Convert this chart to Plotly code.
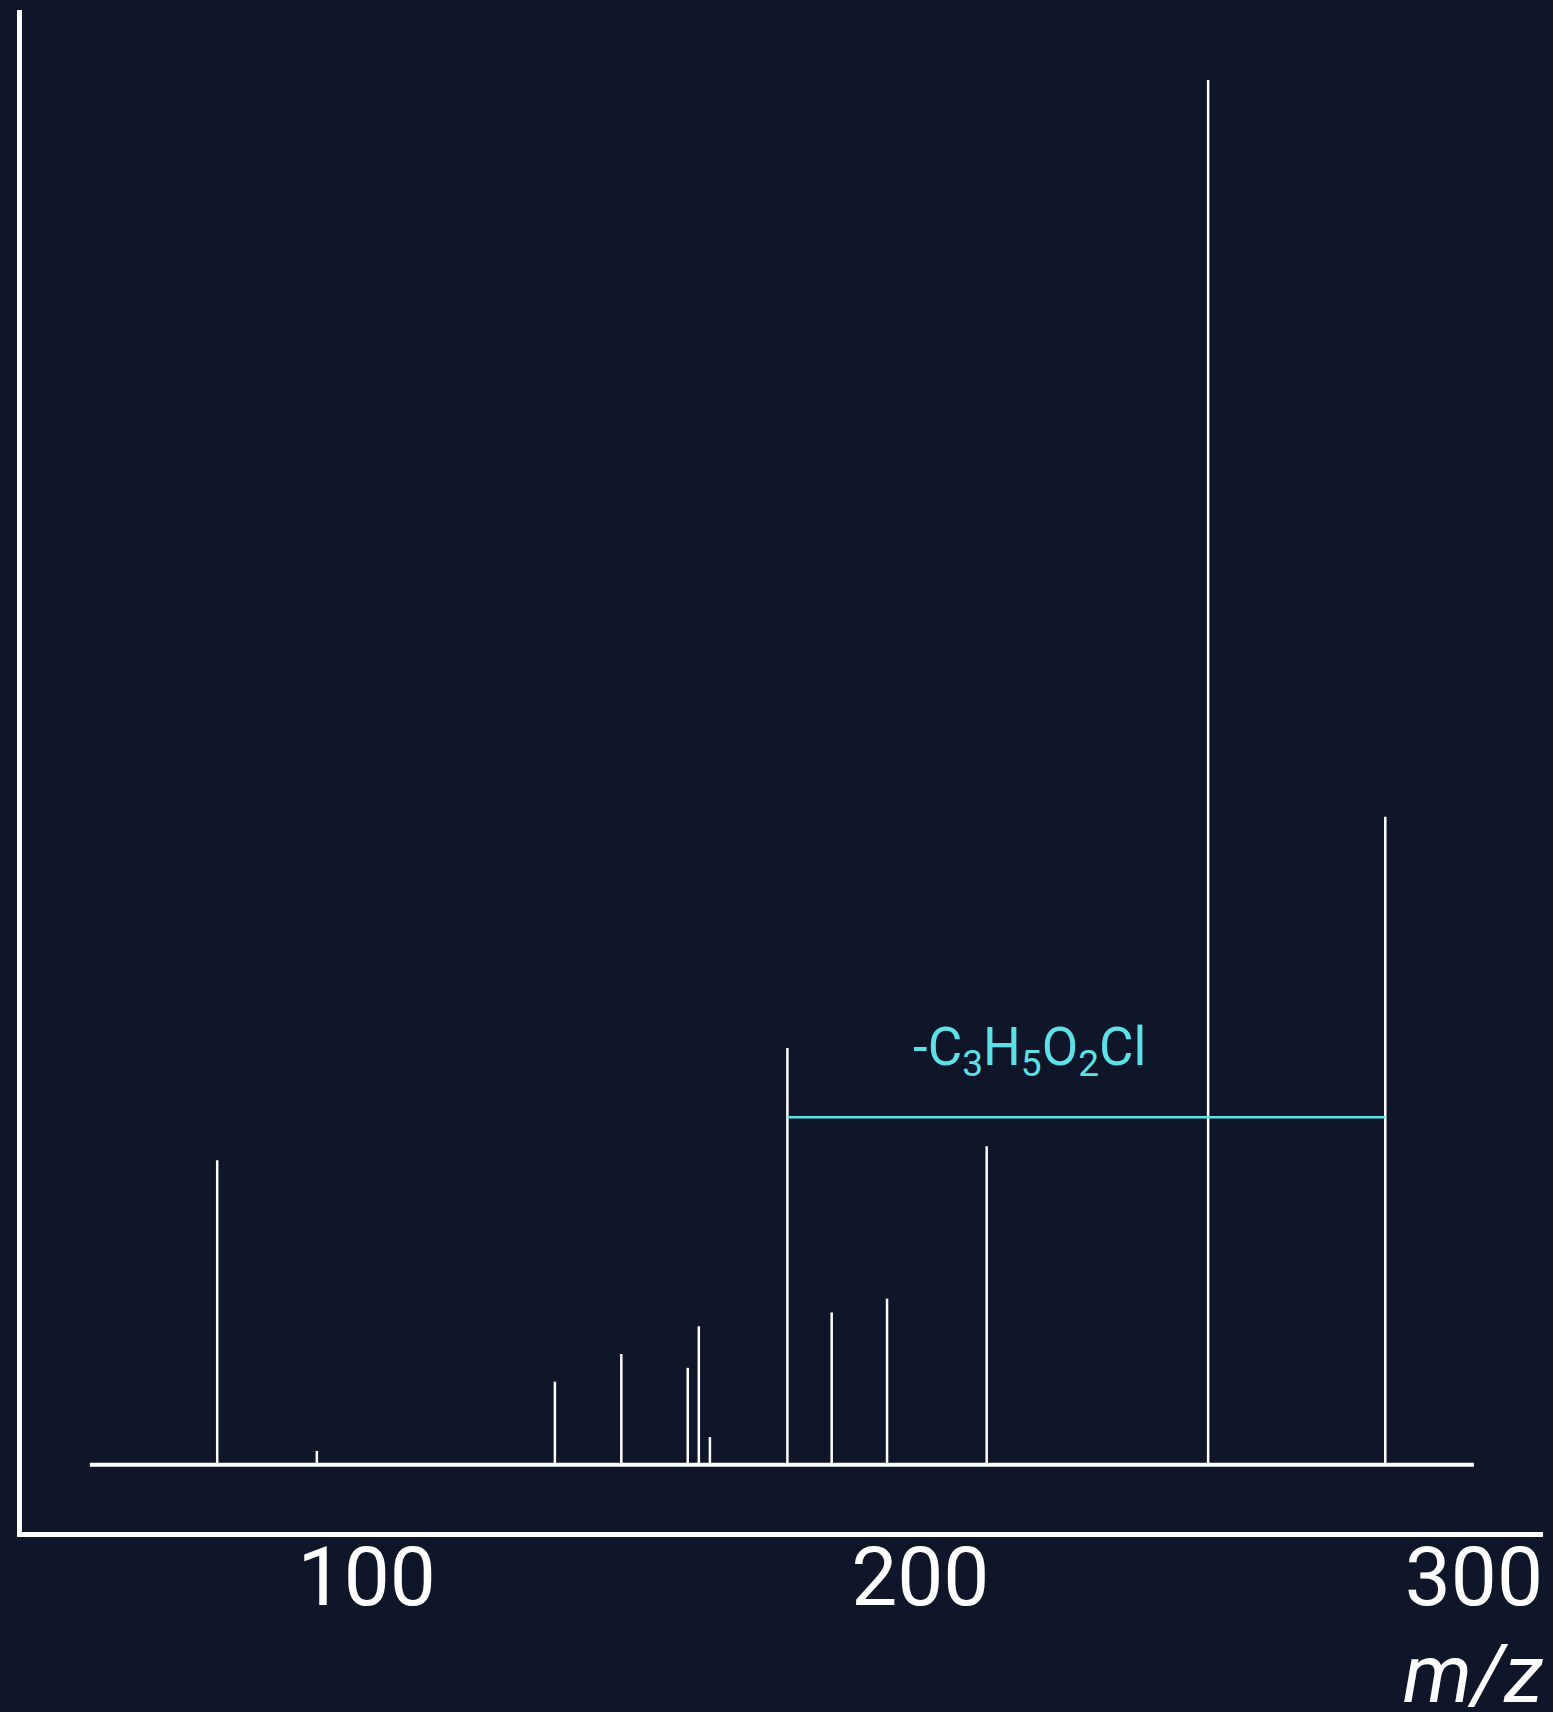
import plotly.graph_objects as go

# Peak data (m/z, relative intensity %)
mz = [73, 91, 134, 146, 158, 160, 162, 176, 184, 194, 212, 252, 284]
intensity = [22.0, 1.0, 6.0, 8.0, 7.0, 10.0, 2.0, 30.1, 11.0, 12.0, 23.0, 100.0, 46.8]

baseline_range = [50, 300]
x_ticks = [100, 200, 300]
x_tick_labels = ["100", "200", "300"]

loss_from = 176
loss_to = 284
loss_level = 25.1
loss_label = "-C<sub>3</sub>H<sub>5</sub>O<sub>2</sub>Cl"

BG = "#0f1629"
WHITE = "#ffffff"
CYAN = "#5ee1e6"
FONT = "Roboto"

# build stick spectrum
xs, ys = [], []
for m, h in zip(mz, intensity):
    xs += [m, m, None]
    ys += [0, h, None]

fig = go.Figure()
fig.add_trace(go.Scatter(
    x=baseline_range, y=[0, 0], mode="lines",
    line=dict(color=WHITE, width=4), hoverinfo="skip", showlegend=False))
fig.add_trace(go.Scatter(
    x=xs, y=ys, mode="lines",
    line=dict(color=WHITE, width=2.5), hoverinfo="skip", showlegend=False))
fig.add_trace(go.Scatter(
    x=[loss_from, loss_to], y=[loss_level, loss_level], mode="lines",
    line=dict(color=CYAN, width=2.5), hoverinfo="skip", showlegend=False))

fig.add_annotation(
    x=(loss_from + loss_to) / 2 - 10.3, y=loss_level + 4.85,
    xref="x", yref="y", text=loss_label, showarrow=False,
    xanchor="center", yanchor="middle",
    font=dict(family=FONT, size=53, color=CYAN))

fig.add_annotation(
    x=1.001, y=-0.0935, xref="paper", yref="paper",
    text="<i>m/z</i>", showarrow=False, xanchor="right", yanchor="middle",
    font=dict(family=FONT, size=81, color=WHITE))

fig.update_xaxes(
    range=[37.74, 312.49], tickvals=x_ticks, ticktext=x_tick_labels,
    showline=True, linecolor=WHITE, linewidth=5, showgrid=False, zeroline=False,
    ticks="", ticklabelstandoff=-30,
    tickfont=dict(family=FONT, size=82, color=WHITE))
fig.update_yaxes(
    range=[-4.856, 105.06], showticklabels=False,
    showline=True, linecolor=WHITE, linewidth=5, showgrid=False, zeroline=False,
    ticks="")

fig.update_layout(
    width=1553, height=1712,
    margin=dict(l=22, r=10, t=10, b=180),
    paper_bgcolor=BG, plot_bgcolor=BG,
    font=dict(family=FONT, color=WHITE),
    showlegend=False)

fig.write_html(
    "out.html",
    config={"displayModeBar": False},
    post_script=(
        "document.documentElement.style.margin='0';"
        "document.documentElement.style.background='" + BG + "';"
        "document.body.style.margin='0';"
        "document.body.style.overflow='hidden';"
        "document.body.style.background='" + BG + "';"
    ))
